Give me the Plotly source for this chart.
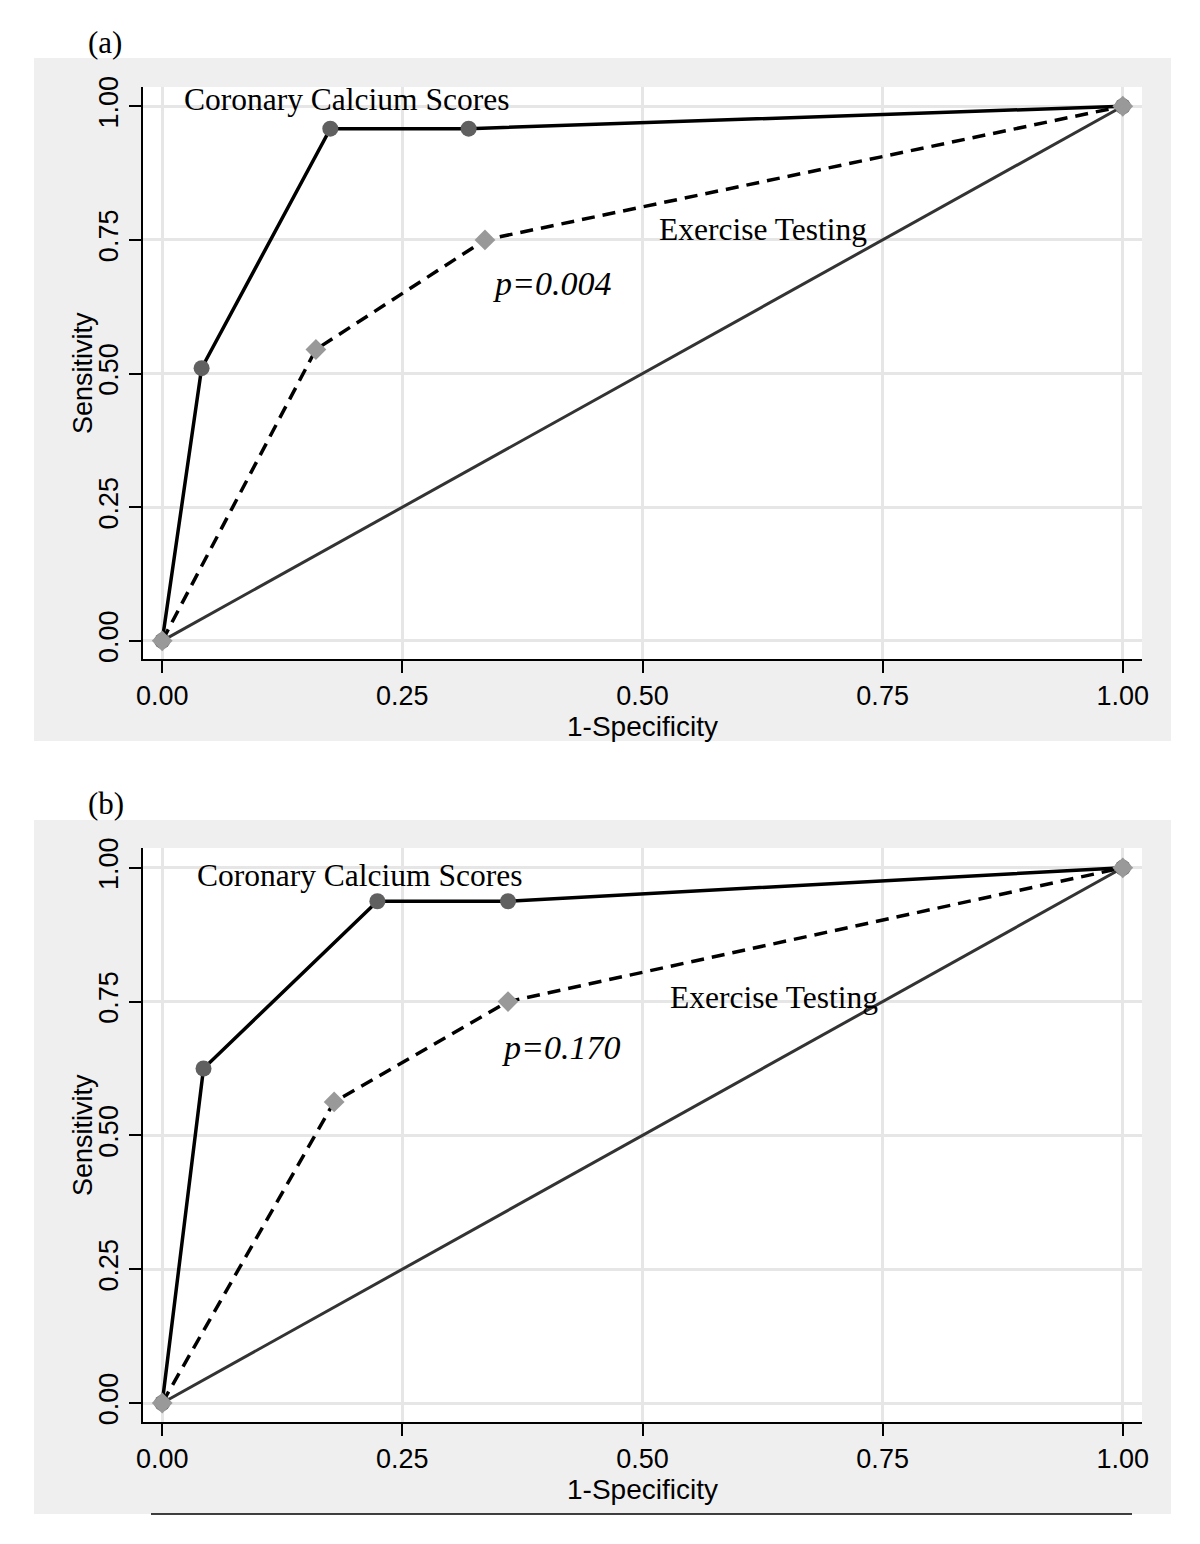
import plotly.graph_objects as go

# ---- data ----
# Panel (a)
cac_a_x = [0.0, 0.041, 0.175, 0.319, 1.0]
cac_a_y = [0.0, 0.51, 0.958, 0.958, 1.0]
ex_a_x = [0.0, 0.160, 0.336, 1.0]
ex_a_y = [0.0, 0.545, 0.75, 1.0]
# Panel (b)
cac_b_x = [0.0, 0.043, 0.224, 0.360, 1.0]
cac_b_y = [0.0, 0.625, 0.9375, 0.9375, 1.0]
ex_b_x = [0.0, 0.179, 0.360, 1.0]
ex_b_y = [0.0, 0.5625, 0.75, 1.0]
ref_x = [0.0, 1.0]
ref_y = [0.0, 1.0]
tick_vals = [0.0, 0.25, 0.5, 0.75, 1.0]
tick_text = ["0.00", "0.25", "0.50", "0.75", "1.00"]
panel_labels = ["(a)", "(b)"]
p_values = ["p=0.004", "p=0.170"]
curve_names = ["Coronary Calcium Scores", "Exercise Testing"]
x_title = "1-Specificity"
y_title = "Sensitivity"

W, H = 1200, 1544
OFF = 8  # page body margin


def px(x):
    return (x - OFF) / W


def py(y):
    return 1 - (y - OFF) / H


fig = go.Figure()

panels = [
    dict(cx=cac_a_x, cy=cac_a_y, ex=ex_a_x, ey=ex_a_y, xa="x", ya="y",
         top=87, bottom=659, yr=[-0.034, 1.036]),
    dict(cx=cac_b_x, cy=cac_b_y, ex=ex_b_x, ey=ex_b_y, xa="x2", ya="y2",
         top=848, bottom=1422, yr=[-0.0355, 1.037]),
]

for p in panels:
    fig.add_trace(go.Scatter(x=ref_x, y=ref_y, mode="lines",
                             line=dict(color="#333333", width=3),
                             xaxis=p["xa"], yaxis=p["ya"], showlegend=False))
    fig.add_trace(go.Scatter(x=p["cx"], y=p["cy"], mode="lines+markers",
                             line=dict(color="black", width=3.5),
                             marker=dict(symbol="circle", size=16, color="#606060"),
                             xaxis=p["xa"], yaxis=p["ya"], showlegend=False))
    fig.add_trace(go.Scatter(x=p["ex"], y=p["ey"], mode="lines+markers",
                             line=dict(color="black", width=3.5, dash="13px,8px"),
                             marker=dict(symbol="diamond", size=16, color="#999999"),
                             xaxis=p["xa"], yaxis=p["ya"], showlegend=False))

sans = "Liberation Sans, Arial"
serif = "Liberation Serif, Times New Roman"
axis_common = dict(
    tickmode="array", tickvals=tick_vals, ticktext=tick_text,
    showgrid=True, gridcolor="#e6e6e6", gridwidth=3,
    zeroline=False, showline=True, linecolor="black", linewidth=2,
    ticks="outside", ticklen=12, tickwidth=2, tickcolor="black",
    tickfont=dict(family=sans, size=27, color="black"),
    automargin=False,
)

xdom = [px(143), px(1142)]
layout = dict(
    width=W, height=H, autosize=False,
    margin=dict(l=0, r=0, t=0, b=0, pad=0),
    paper_bgcolor="white", plot_bgcolor="white",
    showlegend=False,
)
for i, p in enumerate(panels):
    sfx = "" if i == 0 else str(i + 1)
    layout["xaxis" + sfx] = dict(
        axis_common, domain=xdom, range=[-0.02, 1.02], anchor="y" + sfx,
        title=dict(text=x_title, standoff=2,
                   font=dict(family=sans, size=28, color="black")),
    )
    layout["yaxis" + sfx] = dict(
        axis_common, domain=[py(p["bottom"]), py(p["top"])], range=p["yr"],
        anchor="x" + sfx, tickangle=-90,
    )
fig.update_layout(**layout)

# gray panel backgrounds with white plotting areas
shapes = [
    dict(type="rect", xref="paper", yref="paper", x0=px(34), x1=px(1171),
         y0=py(741), y1=py(58), fillcolor="#efefef", line=dict(width=0), layer="below"),
    dict(type="rect", xref="paper", yref="paper", x0=px(34), x1=px(1171),
         y0=py(1514), y1=py(820), fillcolor="#efefef", line=dict(width=0), layer="below"),
    dict(type="rect", xref="paper", yref="paper", x0=px(143), x1=px(1142),
         y0=py(659), y1=py(87), fillcolor="white", line=dict(width=0), layer="below"),
    dict(type="rect", xref="paper", yref="paper", x0=px(143), x1=px(1142),
         y0=py(1422), y1=py(848), fillcolor="white", line=dict(width=0), layer="below"),
    dict(type="line", xref="paper", yref="paper", x0=px(151), x1=px(1132),
         y0=py(1514), y1=py(1514), line=dict(color="black", width=1.5)),
]
fig.update_layout(shapes=shapes)

ann = []
# panel labels
ann.append(dict(text=panel_labels[0], xref="paper", yref="paper", x=px(105), y=py(43),
                xanchor="center", yanchor="middle",
                showarrow=False, font=dict(family=serif, size=31, color="black")))
ann.append(dict(text=panel_labels[1], xref="paper", yref="paper", x=px(106), y=py(803),
                xanchor="center", yanchor="middle",
                showarrow=False, font=dict(family=serif, size=31, color="black")))
# y-axis titles
for p in panels:
    ann.append(dict(text=y_title, xref="paper", yref="paper", x=px(83),
                    y=py((p["top"] + p["bottom"]) / 2), textangle=-90,
                    xanchor="center", yanchor="middle", showarrow=False,
                    font=dict(family=sans, size=27, color="black")))
# curve labels & p-values (data coords)
label_pos = [
    dict(xa="x", ya="y", cc=(0.1915, 1.012), ec=(0.625, 0.769), pc=(0.406, 0.668)),
    dict(xa="x2", ya="y2", cc=(0.205, 0.986), ec=(0.637, 0.757), pc=(0.415, 0.664)),
]
for i, lp in enumerate(label_pos):
    ann.append(dict(text=curve_names[0], xref=lp["xa"], yref=lp["ya"],
                    x=lp["cc"][0], y=lp["cc"][1], xanchor="center", yanchor="middle",
                    showarrow=False, font=dict(family=serif, size=31.5, color="black")))
    ann.append(dict(text=curve_names[1], xref=lp["xa"], yref=lp["ya"],
                    x=lp["ec"][0], y=lp["ec"][1], xanchor="center", yanchor="middle",
                    showarrow=False, font=dict(family=serif, size=31.5, color="black")))
    ann.append(dict(text="<i>" + p_values[i] + "</i>", xref=lp["xa"], yref=lp["ya"],
                    x=lp["pc"][0], y=lp["pc"][1], xanchor="center", yanchor="middle",
                    showarrow=False, font=dict(family=serif, size=34, color="black")))
fig.update_layout(annotations=ann)

fig.write_html("out.html")
